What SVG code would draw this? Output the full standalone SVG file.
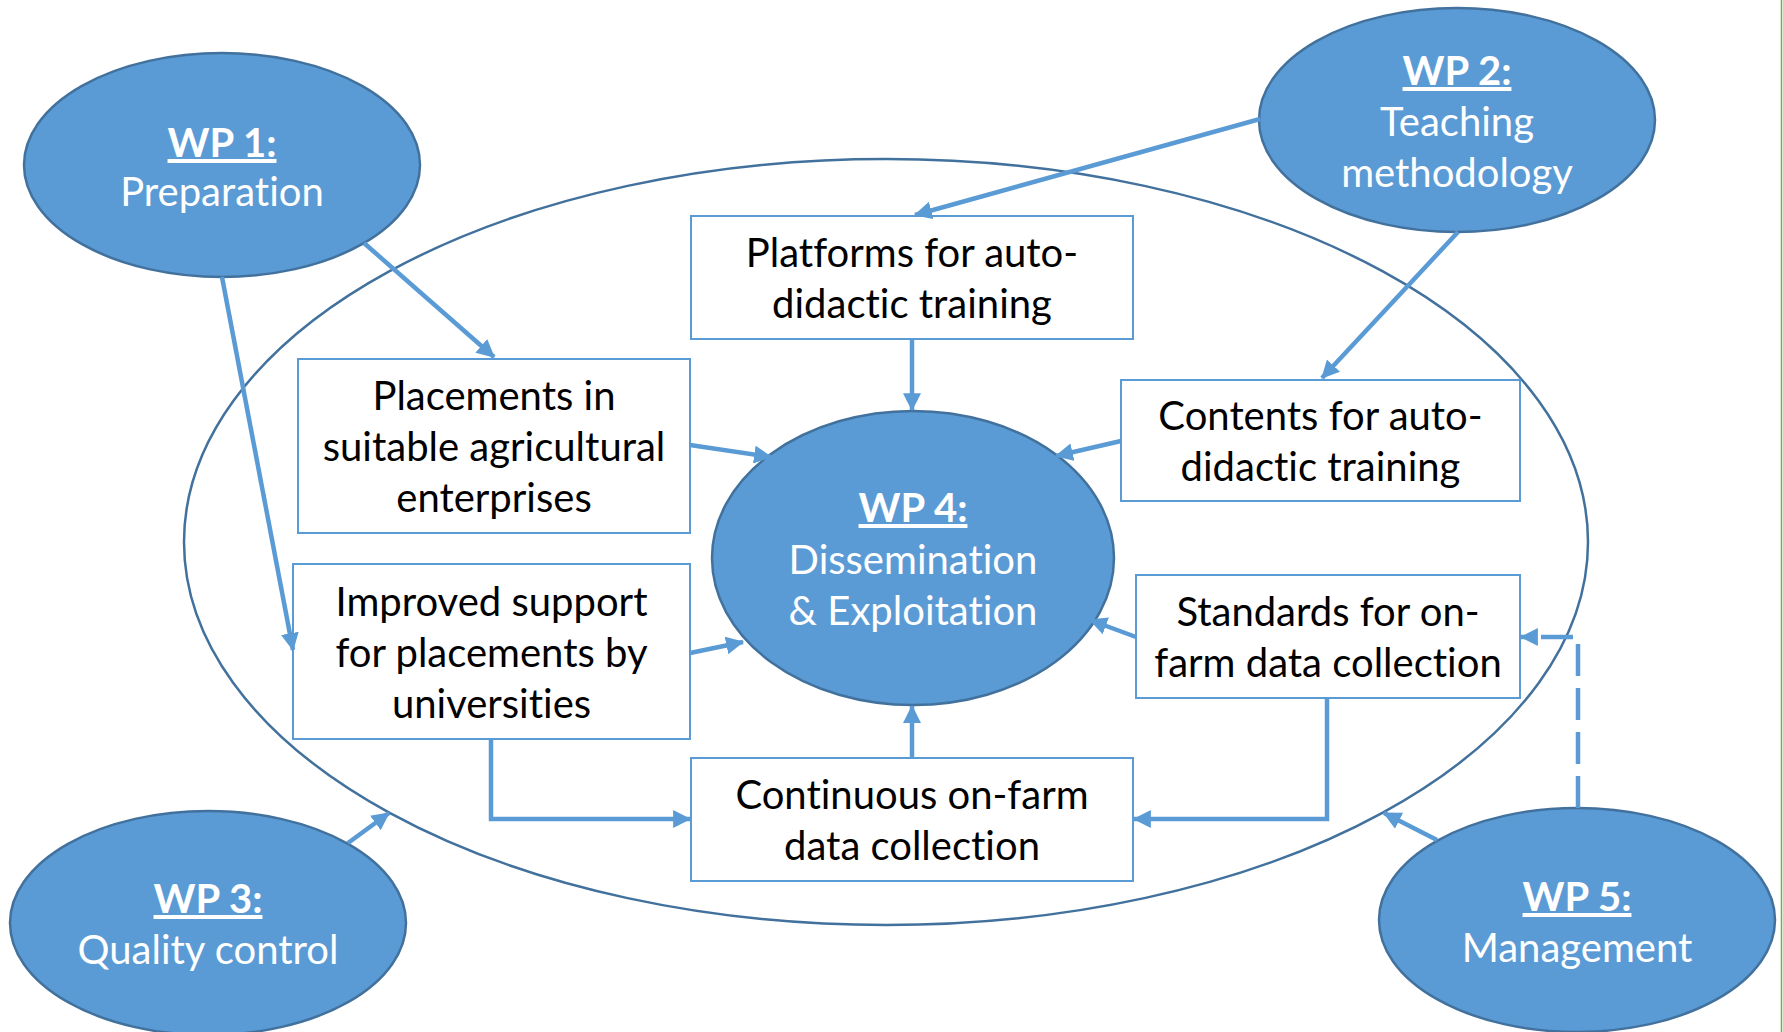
<svg xmlns="http://www.w3.org/2000/svg" width="1783" height="1032" viewBox="0 0 1783 1032">
<defs>
<style>
.wp{fill:#5B9BD5;stroke:#41719C;stroke-width:2.5}
.box{fill:#FFFFFF;stroke:#5B9BD5;stroke-width:2}
.big{fill:none;stroke:#41719C;stroke-width:2.5}
.c{fill:none;stroke:#5B9BD5;stroke-width:4.5;marker-end:url(#ah)}
.dash{stroke-dasharray:32 12}
.wt{font-family:Lato,"Liberation Sans",sans-serif;font-size:40px;fill:#FFFFFF;text-anchor:middle;font-variant-ligatures:none}
.wt .h{font-weight:bold;text-decoration:underline}
.bt{font-family:Lato,"Liberation Sans",sans-serif;font-size:40px;fill:#000000;text-anchor:middle;font-variant-ligatures:none}
</style>
<marker id="ah" markerUnits="userSpaceOnUse" markerWidth="18" markerHeight="18" viewBox="0 0 16 16" refX="15" refY="8" orient="auto">
<path d="M0,0 L16,8 L0,16 Z" fill="#5B9BD5"/>
</marker>
</defs>
<rect x="0" y="0" width="1783" height="1032" fill="#FFFFFF"/>
<line x1="1781.5" y1="0" x2="1781.5" y2="1032" stroke="#70AD47" stroke-width="1.5"/>
<ellipse id="outer" class="big" cx="886" cy="542" rx="702" ry="383"/>

<g id="wp1"><ellipse class="wp" cx="222" cy="165" rx="198" ry="112"/>
<text class="wt" x="222" y="157"><tspan class="h">WP 1:</tspan></text>
<text class="wt" x="222" y="206">Preparation</text></g>

<g id="wp2"><ellipse class="wp" cx="1457" cy="120" rx="198" ry="112"/>
<text class="wt" x="1457" y="85"><tspan class="h">WP 2:</tspan></text>
<text class="wt" x="1457" y="136">Teaching</text>
<text class="wt" x="1457" y="187">methodology</text></g>

<g id="wp3"><ellipse class="wp" cx="208" cy="923" rx="198" ry="112"/>
<text class="wt" x="208" y="913"><tspan class="h">WP 3:</tspan></text>
<text class="wt" x="208" y="964">Quality control</text></g>

<g id="wp5"><ellipse class="wp" cx="1577" cy="920" rx="198" ry="112"/>
<text class="wt" x="1577" y="911"><tspan class="h">WP 5:</tspan></text>
<text class="wt" x="1577" y="962">Management</text></g>

<g id="wp4"><ellipse class="wp" cx="913" cy="558" rx="201" ry="147"/>
<text class="wt" x="913" y="522"><tspan class="h">WP 4:</tspan></text>
<text class="wt" x="913" y="574">Dissemination</text>
<text class="wt" x="913" y="625">&amp; Exploitation</text></g>

<g id="platforms"><rect class="box" x="691" y="216" width="442" height="123"/>
<text class="bt" x="912" y="267">Platforms for auto-</text>
<text class="bt" x="912" y="318">didactic training</text></g>

<g id="placements"><rect class="box" x="298" y="359" width="392" height="174"/>
<text class="bt" x="494" y="410">Placements in</text>
<text class="bt" x="494" y="461">suitable agricultural</text>
<text class="bt" x="494" y="512">enterprises</text></g>

<g id="improved"><rect class="box" x="293" y="564" width="397" height="175"/>
<text class="bt" x="491.5" y="615.5">Improved support</text>
<text class="bt" x="491.5" y="666.5">for placements by</text>
<text class="bt" x="491.5" y="717.5">universities</text></g>

<g id="contents"><rect class="box" x="1121" y="380" width="399" height="121"/>
<text class="bt" x="1320.5" y="430">Contents for auto-</text>
<text class="bt" x="1320.5" y="481">didactic training</text></g>

<g id="standards"><rect class="box" x="1136" y="575" width="384" height="123"/>
<text class="bt" x="1328" y="626">Standards for on-</text>
<text class="bt" x="1328" y="677">farm data collection</text></g>

<g id="continuous"><rect class="box" x="691" y="758" width="442" height="123"/>
<text class="bt" x="912" y="809">Continuous on-farm</text>
<text class="bt" x="912" y="860">data collection</text></g>

<g id="connectors">
<path class="c" d="M1260,119 L915,215"/>
<path class="c" d="M1458,232 L1322,378"/>
<path class="c" d="M364,243 L494,357"/>
<path class="c" d="M222,277 L293,650"/>
<path class="c" d="M912,339 L912,410"/>
<path class="c" d="M690,445 L771,457"/>
<path class="c" d="M1121,441 L1056,456"/>
<path class="c" d="M690,653 L743,642"/>
<path class="c" d="M1136,637 L1090,620"/>
<path class="c" d="M912,758 L912,706"/>
<path class="c" d="M491,739 L491,819 L690,819"/>
<path class="c" d="M1327,698 L1327,819 L1134,819"/>
<path class="c" d="M348,843 L389,813"/>
<path class="c" d="M1437,840 L1384,813"/>
<path class="c dash" d="M1578,808 L1578,637 L1521,637"/>
</g>
</svg>
